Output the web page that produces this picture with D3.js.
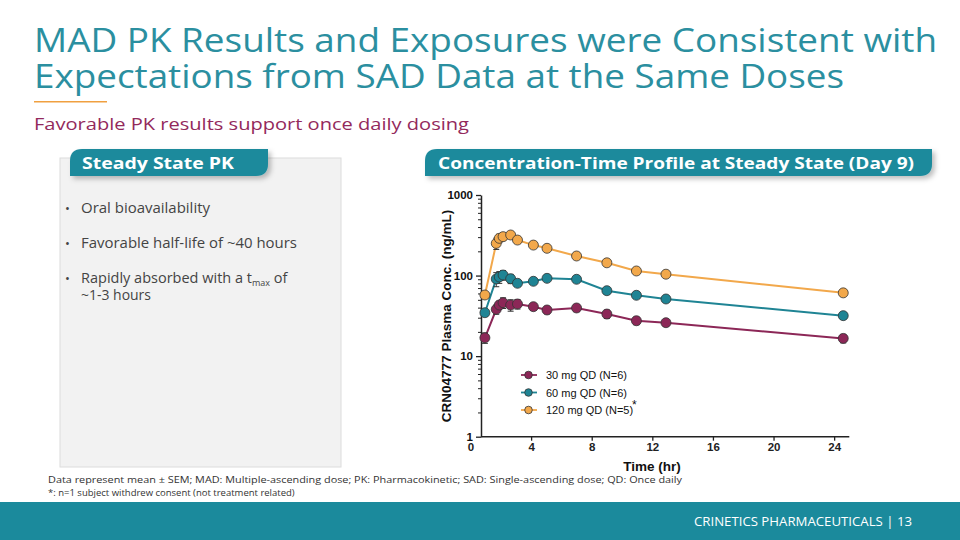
<!DOCTYPE html>
<html><head><meta charset="utf-8">
<script src="https://cdn.jsdelivr.net/npm/d3@7"></script>
<style>
html,body{margin:0;padding:0;background:#fff;}
svg{display:block;}
</style></head>
<body>
<svg id="c" width="960" height="540"></svg>
<script>
// ---- Data ----
const times = [0.95, 1.7, 1.9, 2.15, 2.65, 3.1, 4.15, 5.05, 7.0, 9.0, 10.95, 12.9, 24.6];
const mean30 = [16.9, 38.1, 43.1, 46.0, 43.1, 44.4, 41.1, 37.4, 39.6, 33.3, 27.5, 26.0, 16.6];
const sem30  = [2.5, 5, 5, 7, 7, 6, 4, 4, 4, 4, 3, 2.5, 2];
const mean60 = [34.6, 90.7, 96, 101.6, 91.4, 80.2, 84.9, 92.4, 89.9, 64.9, 56.9, 51.2, 31.8];
const sem60  = [2, 18, 16, 14, 12, 6, 4, 4, 4, 3, 2, 2, 1.5];
const mean120 = [57.4, 251, 290, 304, 319, 276, 239, 218, 175, 144, 114, 104, 61];
const sem120  = [4, 40, 35, 32, 30, 20, 10, 8, 8, 7, 6, 5, 3];
const seriesNames = ["30 mg QD (N=6)", "60 mg QD (N=6)", "120 mg QD (N=5)"];
const xTicks = [0, 4, 8, 12, 16, 20, 24];
const yTicks = [1, 10, 100, 1000];
const bullets = ["Oral bioavailability", "Favorable half-life of ~40 hours"];

const colors = ["#8c2757", "#1f8494", "#f2a84b"];
const series = [
  {name: seriesNames[0], mean: mean30, sem: sem30, color: colors[0]},
  {name: seriesNames[1], mean: mean60, sem: sem60, color: colors[1]},
  {name: seriesNames[2], mean: mean120, sem: sem120, color: colors[2]}
];

const svg = d3.select("#c");
const teal = "#1b8a9c";
const sans = "'Open Sans', 'Noto Sans', sans-serif";
const arial = "'Liberation Sans', Arial, sans-serif";

// ---- Title ----
svg.append("text").attr("x", 34).attr("y", 52).attr("font-family", sans)
  .attr("font-size", 32).attr("fill", "#2b8fa0").attr("textLength", 903).attr("lengthAdjust", "spacingAndGlyphs")
  .text("MAD PK Results and Exposures were Consistent with");
svg.append("text").attr("x", 34).attr("y", 88).attr("font-family", sans)
  .attr("font-size", 32).attr("fill", "#2b8fa0").attr("textLength", 810).attr("lengthAdjust", "spacingAndGlyphs")
  .text("Expectations from SAD Data at the Same Doses");
svg.append("rect").attr("x", 34).attr("y", 101).attr("width", 73).attr("height", 1.5).attr("fill", "#f0a040");
svg.append("text").attr("x", 34).attr("y", 130).attr("font-family", sans)
  .attr("font-size", 16.5).attr("fill", "#93295c").attr("textLength", 435).attr("lengthAdjust", "spacingAndGlyphs")
  .text("Favorable PK results support once daily dosing");

// ---- Left panel ----
svg.append("rect").attr("x", 60).attr("y", 158).attr("width", 281).attr("height", 309)
  .attr("fill", "#f2f2f2").attr("stroke", "#dcdcdc").attr("stroke-width", 1);

const defs = svg.append("defs");
const f = defs.append("filter").attr("id", "sh").attr("x", "-10%").attr("y", "-30%").attr("width", "120%").attr("height", "180%");
f.append("feDropShadow").attr("dx", 3).attr("dy", 3).attr("stdDeviation", 2.5).attr("flood-color", "#000").attr("flood-opacity", 0.25);

function tab(x, y, w, h, r) {
  const p = `M${x+r},${y} H${x+w} V${y+h-r} Q${x+w},${y+h} ${x+w-r},${y+h} H${x} V${y+r} Q${x},${y} ${x+r},${y} Z`;
  svg.append("path").attr("d", p).attr("fill", teal).attr("filter", "url(#sh)");
}
tab(70, 149, 198, 27, 12);
tab(425, 149, 507, 27, 12);
svg.append("text").attr("x", 82).attr("y", 169).attr("font-family", sans).attr("font-weight", 700)
  .attr("font-size", 16).attr("fill", "#fff").attr("textLength", 152).attr("lengthAdjust", "spacingAndGlyphs")
  .text("Steady State PK");
svg.append("text").attr("x", 438).attr("y", 169).attr("font-family", sans).attr("font-weight", 700)
  .attr("font-size", 16).attr("fill", "#fff").attr("textLength", 476).attr("lengthAdjust", "spacingAndGlyphs")
  .text("Concentration-Time Profile at Steady State (Day 9)");

const by = [213, 248];
const bw = [129, 216];
bullets.forEach((b, i) => {
  svg.append("text").attr("x", 65).attr("y", by[i]).attr("font-family", sans).attr("font-size", 13).attr("fill", "#444").text("•");
  svg.append("text").attr("x", 81).attr("y", by[i]).attr("font-family", sans).attr("font-size", 14).attr("fill", "#444")
    .attr("textLength", bw[i]).attr("lengthAdjust", "spacingAndGlyphs").text(b);
});
svg.append("text").attr("x", 65).attr("y", 283).attr("font-family", sans).attr("font-size", 13).attr("fill", "#444").text("•");
const t3 = svg.append("text").attr("x", 81).attr("y", 283).attr("font-family", sans).attr("font-size", 14.5).attr("fill", "#444");
t3.append("tspan").text("Rapidly absorbed with a t");
t3.append("tspan").attr("font-size", 9).attr("dy", 3).text("max");
t3.append("tspan").attr("dy", -3).text(" of");
svg.append("text").attr("x", 81).attr("y", 300).attr("font-family", sans).attr("font-size", 14).attr("fill", "#444")
  .attr("textLength", 70).attr("lengthAdjust", "spacingAndGlyphs").text("~1-3 hours");

// ---- Chart ----
const x = d3.scaleLinear().domain([0, 25]).range([470.5, 849.3]);
const y = d3.scaleLog().domain([1, 1000]).range([436.7, 195]);
const axisX0 = 481; // y-axis line position (px)

const g = svg.append("g");

// x axis
const xa = g.append("g").attr("transform", `translate(0,${y(1)})`)
  .call(d3.axisBottom(x).tickValues(xTicks).tickSize(4).tickSizeOuter(0).tickFormat(d3.format("d")));
xa.select(".domain").attr("d", `M${axisX0},0H${x(25)}`).attr("stroke", "#222").attr("stroke-width", 1.5);
xa.selectAll(".tick line").attr("stroke", "#222").attr("stroke-width", 1.3).filter(d => d === 0).remove();
xa.selectAll(".tick text").attr("font-family", arial).attr("font-weight", 700).attr("font-size", 11.5).attr("fill", "#222").attr("y", 6);

// y axis
const minor = [];
for (let e = 0; e < 3; e++) for (let k = 2; k <= 9; k++) minor.push(k * Math.pow(10, e));
const yaMinor = g.append("g").attr("transform", `translate(${axisX0},0)`)
  .call(d3.axisLeft(y).tickValues(minor).tickSize(3).tickFormat(""));
yaMinor.select(".domain").remove();
yaMinor.selectAll(".tick line").attr("stroke", "#222");
const ya = g.append("g").attr("transform", `translate(${axisX0},0)`)
  .call(d3.axisLeft(y).tickValues(yTicks).tickSize(5).tickSizeOuter(0).tickFormat(d3.format("d")));
ya.select(".domain").attr("stroke", "#222").attr("stroke-width", 1.5);
ya.selectAll(".tick line").attr("stroke", "#222").attr("stroke-width", 1.3);
ya.selectAll(".tick text").attr("font-family", arial).attr("font-weight", 700).attr("font-size", 11.5).attr("fill", "#111").attr("x", -8);

// axis titles
svg.append("text").attr("x", 652).attr("y", 471).attr("text-anchor", "middle").attr("font-family", arial)
  .attr("font-weight", 700).attr("font-size", 13.5).attr("fill", "#111").text("Time (hr)");
svg.append("text").attr("transform", `translate(451,316) rotate(-90)`).attr("text-anchor", "middle").attr("font-family", arial)
  .attr("font-weight", 700).attr("font-size", 13.5).attr("fill", "#111").text("CRN04777 Plasma Conc. (ng/mL)");

// lines
const line = d3.line().x((d, i) => x(times[i])).y(d => y(d));
series.forEach(s => {
  g.append("path").attr("d", line(s.mean)).attr("fill", "none").attr("stroke", s.color).attr("stroke-width", 2);
});
// error bars
series.forEach(s => {
  s.mean.forEach((m, i) => {
    const cx = x(times[i]);
    const y1 = y(m + s.sem[i]), y2 = y(Math.max(m - s.sem[i], 1.01));
    g.append("line").attr("x1", cx).attr("x2", cx).attr("y1", y1).attr("y2", y2).attr("stroke", "#333").attr("stroke-width", 1);
    [y1, y2].forEach(yy => g.append("line").attr("x1", cx - 3).attr("x2", cx + 3).attr("y1", yy).attr("y2", yy).attr("stroke", "#333").attr("stroke-width", 1));
  });
});
// points
series.forEach(s => {
  g.selectAll(null).data(s.mean).enter().append("circle")
    .attr("cx", (d, i) => x(times[i])).attr("cy", d => y(d)).attr("r", 5)
    .attr("fill", s.color).attr("stroke", "#333").attr("stroke-width", 0.8);
});

// legend
const ly = [375, 392.5, 410];
series.forEach((s, i) => {
  svg.append("line").attr("x1", 521).attr("x2", 537).attr("y1", ly[i]).attr("y2", ly[i]).attr("stroke", s.color).attr("stroke-width", 1.8);
  svg.append("circle").attr("cx", 528.5).attr("cy", ly[i]).attr("r", 3.8).attr("fill", s.color).attr("stroke", "#333").attr("stroke-width", 0.8);
  svg.append("text").attr("x", 546).attr("y", ly[i] + 4).attr("font-family", arial).attr("font-size", 11).attr("fill", "#111").text(s.name);
});
svg.append("text").attr("x", 632).attr("y", 409).attr("font-family", arial).attr("font-size", 12).attr("fill", "#111").text("*");

// footnotes
svg.append("text").attr("x", 48).attr("y", 483).attr("font-family", sans).attr("font-size", 9.5).attr("fill", "#333")
  .attr("textLength", 634).attr("lengthAdjust", "spacingAndGlyphs")
  .text("Data represent mean ± SEM; MAD: Multiple-ascending dose; PK: Pharmacokinetic; SAD: Single-ascending dose; QD: Once daily");
svg.append("text").attr("x", 48).attr("y", 496).attr("font-family", sans).attr("font-size", 9.5).attr("fill", "#333")
  .text("*: n=1 subject withdrew consent (not treatment related)");

// footer
svg.append("rect").attr("x", 0).attr("y", 502).attr("width", 960).attr("height", 38).attr("fill", teal);
svg.append("text").attr("x", 694).attr("y", 526).attr("font-family", sans).attr("font-size", 12).attr("fill", "#fff")
  .attr("textLength", 218).attr("lengthAdjust", "spacingAndGlyphs")
  .text("CRINETICS PHARMACEUTICALS  |  13");
</script>
</body></html>
